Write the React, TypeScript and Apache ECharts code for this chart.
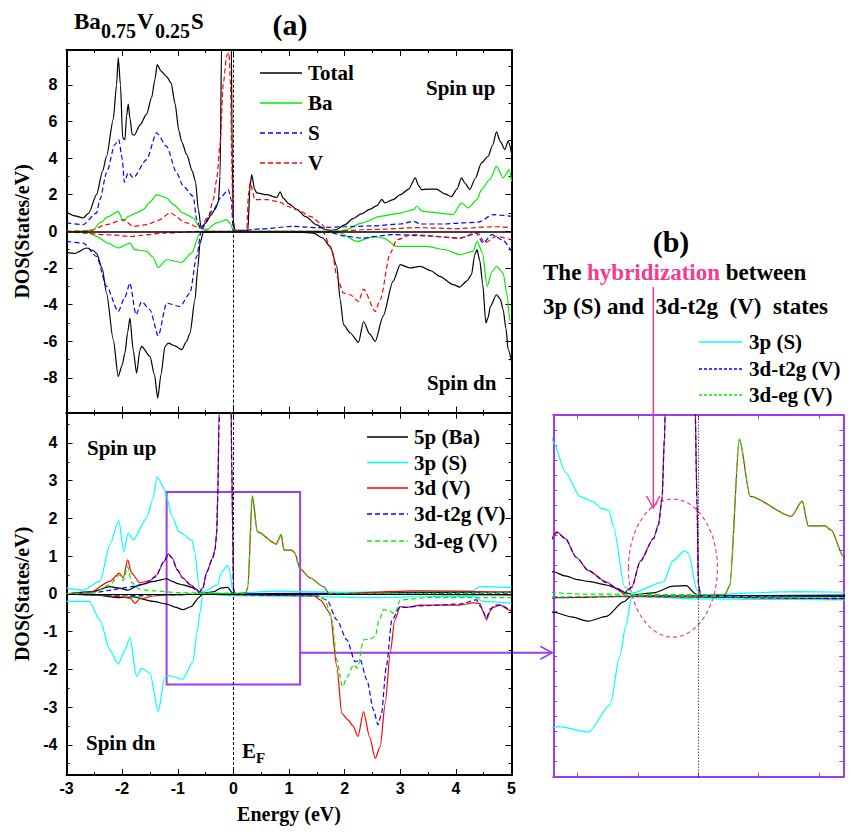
import React, { useEffect, useRef } from 'react';
import * as echarts from 'echarts';

type P = [number, number][];

// ---------- (a) upper panel: total & atomic DOS (spin up positive, spin down negative) ----------
const totalUp: P = [[-3,1.06],[-2.85,0.85],[-2.7,0.73],[-2.6,1.0],[-2.46,2.0],[-2.35,3.3],[-2.28,4.1],[-2.16,6.1],[-2.1,8.0],[-2.07,9.5],[-2.03,8.0],[-1.99,5.1],[-1.95,5.0],[-1.92,6.3],[-1.89,6.95],[-1.86,6.2],[-1.82,5.3],[-1.78,5.25],[-1.68,5.8],[-1.56,6.4],[-1.47,7.3],[-1.41,8.3],[-1.37,9.1],[-1.3,8.75],[-1.2,8.45],[-1.12,8.1],[-1.05,7.0],[-0.98,5.5],[-0.93,4.9],[-0.84,4.2],[-0.74,3.3],[-0.68,2.7],[-0.63,1.2],[-0.58,0.2],[-0.5,0.45],[-0.4,0.9],[-0.33,1.2],[-0.27,1.6],[-0.24,3.0],[-0.21,10.5],[-0.16,22],[-0.1,26],[-0.06,20],[-0.04,11],[-0.02,4],[0,0.5],[0.03,0.05],[0.26,0.05],[0.3,2.5],[0.33,3.1],[0.38,2.3],[0.42,2.1],[0.6,2.0],[0.78,1.85],[0.84,2.15],[0.9,1.8],[1.0,1.5],[1.14,1.2],[1.3,0.8],[1.5,0.35],[1.65,0.1],[1.75,0.05],[1.85,0.1],[2.0,0.35],[2.15,0.7],[2.3,0.95],[2.45,1.2],[2.58,1.4],[2.67,1.75],[2.72,1.55],[2.87,1.73],[3.0,2.0],[3.15,2.3],[3.27,2.92],[3.33,2.5],[3.38,2.28],[3.5,2.3],[3.65,2.3],[3.8,2.05],[3.92,1.9],[4.02,2.3],[4.1,2.92],[4.17,2.6],[4.25,2.28],[4.35,2.9],[4.46,3.74],[4.58,4.1],[4.66,4.7],[4.73,5.43],[4.8,4.9],[4.88,4.46],[4.94,4.92],[5,4.28]];
const totalDn: P = [[-3,-1.15],[-2.85,-1.2],[-2.64,-0.91],[-2.52,-1.05],[-2.46,-1.2],[-2.36,-2.0],[-2.28,-3.37],[-2.16,-5.9],[-2.07,-7.92],[-2.0,-7.3],[-1.95,-6.65],[-1.9,-5.5],[-1.86,-4.73],[-1.8,-6.5],[-1.74,-7.74],[-1.68,-6.5],[-1.65,-6.28],[-1.5,-6.83],[-1.42,-7.8],[-1.36,-9.1],[-1.3,-7.8],[-1.23,-6.28],[-1.17,-6.1],[-1.05,-6.25],[-0.93,-6.46],[-0.84,-6.0],[-0.78,-5.55],[-0.69,-3.73],[-0.64,-2.0],[-0.6,-0.64],[-0.54,-0.05],[-0.3,-0.03],[0,-0.02],[1.2,-0.05],[1.44,-0.1],[1.6,-0.35],[1.74,-0.82],[1.86,-1.91],[1.92,-3.73],[1.98,-5.1],[2.1,-5.55],[2.25,-6.06],[2.34,-4.92],[2.45,-5.6],[2.55,-6.01],[2.69,-4.64],[2.87,-2.73],[3.0,-1.82],[3.18,-2.0],[3.36,-1.91],[3.55,-2.15],[3.71,-2.46],[3.95,-2.91],[4.07,-3.04],[4.2,-2.7],[4.28,-2.37],[4.34,-1.27],[4.38,-1.0],[4.43,-1.6],[4.48,-2.82],[4.54,-5.01],[4.58,-4.7],[4.62,-4.1],[4.73,-3.46],[4.8,-3.7],[4.85,-4.28],[4.9,-5.3],[4.94,-6.46],[5,-7.1]];
const baUp: P = [[-3,0],[-2.7,0.02],[-2.52,0.09],[-2.4,0.46],[-2.25,0.8],[-2.07,1.09],[-1.98,0.55],[-1.89,0.82],[-1.75,1.0],[-1.62,1.19],[-1.5,1.6],[-1.38,2.0],[-1.2,1.83],[-1.08,1.46],[-0.9,1.0],[-0.72,0.73],[-0.6,0.18],[-0.48,0.09],[-0.3,0.46],[-0.12,0.64],[-0.05,0.4],[0,0],[1.9,0],[2.04,0.1],[2.3,0.45],[2.64,0.82],[3.0,1.0],[3.24,1.19],[3.3,1.37],[3.4,1.09],[3.7,1.0],[3.95,0.91],[4.1,1.55],[4.22,1.28],[4.38,1.73],[4.46,2.28],[4.61,2.83],[4.73,3.55],[4.85,2.92],[4.96,3.37],[5,2.73]];
const baDn: P = [[-3,0],[-2.64,-0.02],[-2.46,-0.27],[-2.25,-0.65],[-2.07,-0.91],[-1.86,-0.64],[-1.77,-1.0],[-1.56,-1.09],[-1.45,-1.4],[-1.35,-1.97],[-1.2,-1.55],[-0.93,-1.69],[-0.75,-1.18],[-0.6,-0.09],[-0.54,0],[1.68,0],[1.92,-0.09],[2.22,-0.55],[2.52,-0.27],[2.7,-0.37],[2.94,-0.82],[3.48,-0.82],[3.8,-1.0],[4.07,-1.27],[4.31,-1.09],[4.38,-0.55],[4.48,-1.18],[4.56,-3.0],[4.65,-2.2],[4.73,-1.91],[4.85,-2.28],[4.92,-3.5],[4.97,-4.83],[5,-4.92]];
const sUp: P = [[-3,0.46],[-2.7,0.37],[-2.46,1.0],[-2.4,1.73],[-2.28,3.19],[-2.13,4.74],[-2.06,5.01],[-2.0,4.0],[-1.96,2.68],[-1.89,3.21],[-1.8,2.92],[-1.56,3.92],[-1.38,5.38],[-1.2,4.64],[-1.02,3.19],[-0.9,2.46],[-0.72,1.91],[-0.66,0.64],[-0.58,0.1],[-0.36,1.19],[-0.21,1.91],[-0.09,2.28],[-0.04,1.73],[0,0],[0.48,0.13],[1.08,0.27],[1.5,0.2],[2.0,0.25],[2.5,0.3],[3.0,0.4],[3.24,0.55],[3.36,0.4],[3.8,0.4],[4.1,0.46],[4.4,0.5],[4.67,0.91],[5,0.82]];
const sDn: P = [[-3,-0.55],[-2.7,-0.64],[-2.46,-1.37],[-2.28,-3.0],[-2.07,-4.37],[-1.95,-3.6],[-1.86,-2.82],[-1.75,-4.55],[-1.65,-3.83],[-1.5,-4.28],[-1.35,-5.7],[-1.2,-3.92],[-0.96,-4.1],[-0.78,-3.37],[-0.66,-1.37],[-0.58,0],[0,-0.02],[1.7,-0.05],[2.04,-0.27],[2.3,-0.37],[2.87,-0.18],[3.5,-0.25],[4.07,-0.37],[4.36,-0.09],[4.49,-0.64],[4.65,-0.18],[4.85,-0.5],[5,-1.09]];
const vUp: P = [[-3,0],[-2.6,0.02],[-2.28,0.37],[-1.98,0.64],[-1.8,0.27],[-1.56,0.37],[-1.35,0.6],[-1.14,1.0],[-0.84,0.46],[-0.6,0.18],[-0.45,0.8],[-0.36,1.73],[-0.3,2.83],[-0.24,4.74],[-0.18,8.1],[-0.12,9.6],[-0.08,9.75],[-0.05,8.0],[-0.03,4.0],[-0.01,1.0],[0.02,0],[0.24,0],[0.27,2.0],[0.3,2.65],[0.39,1.73],[0.6,1.73],[0.84,1.6],[0.96,1.37],[1.14,1.19],[1.4,0.8],[1.56,0.46],[1.68,0.09],[1.75,0],[2.5,0.1],[3.3,0.2],[4.0,0.15],[4.7,0.25],[5,0.2]];
const vDn: P = [[-3,0],[-2.28,-0.18],[-1.86,-0.27],[-1.2,-0.09],[-0.6,0],[1.6,0],[1.77,-1.0],[1.86,-2.46],[1.98,-3.37],[2.1,-3.46],[2.25,-3.83],[2.34,-3.15],[2.55,-4.37],[2.64,-3.73],[2.82,-1.18],[2.94,-0.46],[3.2,-0.18],[4.07,-0.37],[4.4,-0.09],[4.52,-0.64],[4.72,-0.27],[5,-0.46]];

// ---------- (a) lower panel & (b): orbital-projected DOS ----------
const p5Up: P = [[-3,0],[-2.52,0.06],[-2.22,0.19],[-2.05,0.15],[-1.9,0.1],[-1.68,0.24],[-1.44,0.33],[-1.2,0.4],[-1.1,0.33],[-1.0,0.27],[-0.91,0.24],[-0.76,0.18],[-0.67,0.12],[-0.6,0.05],[-0.54,0.02],[-0.37,0.05],[-0.21,0.16],[-0.1,0.17],[-0.02,0.03],[0.02,0],[3.0,0.03],[5,0.05]];
const p5Dn: P = [[-3,0],[-2.5,-0.03],[-2.04,-0.1],[-1.8,-0.08],[-1.44,-0.2],[-1.2,-0.27],[-1.05,-0.35],[-0.91,-0.42],[-0.76,-0.34],[-0.62,-0.1],[-0.55,0],[5,-0.03]];
const s3pUp: P = [[-3,0.15],[-2.7,0.1],[-2.4,0.33],[-2.22,1.3],[-2.06,1.94],[-1.97,1.12],[-1.89,1.61],[-1.8,1.43],[-1.56,2.0],[-1.45,2.5],[-1.37,3.1],[-1.23,2.76],[-1.2,2.55],[-1.1,2.05],[-0.98,1.65],[-0.87,1.56],[-0.8,1.45],[-0.74,1.42],[-0.7,1.13],[-0.61,0.15],[-0.54,0.05],[-0.29,0.23],[-0.21,0.58],[-0.11,0.75],[-0.08,0.7],[-0.01,0.09],[0.02,0.02],[0.8,0.07],[1.2,0.06],[2.0,0.04],[3.0,0.06],[4.3,0.08],[4.43,0.19],[5,0.17]];
const s3pDn: P = [[-3,-0.2],[-2.59,-0.2],[-2.4,-0.69],[-2.22,-1.49],[-2.07,-1.86],[-1.95,-1.49],[-1.86,-1.16],[-1.74,-2.19],[-1.65,-1.97],[-1.5,-2.1],[-1.35,-3.12],[-1.23,-2.19],[-1.15,-2.17],[-0.91,-2.26],[-0.73,-1.81],[-0.65,-1.0],[-0.6,-0.5],[-0.55,0],[0,-0.05],[1.5,-0.07],[2.45,-0.1],[3.5,-0.07],[4.3,-0.06],[4.49,-0.2],[5,-0.25]];
const d3Up: P = [[-3,0],[-2.6,0.02],[-2.22,0.33],[-2.05,0.55],[-1.98,0.42],[-1.9,0.9],[-1.83,0.55],[-1.68,0.29],[-1.5,0.35],[-1.38,0.5],[-1.25,0.85],[-1.17,1.06],[-1.1,0.95],[-1.01,0.64],[-0.91,0.42],[-0.76,0.23],[-0.67,0.12],[-0.62,0.04],[-0.55,0.15],[-0.48,0.58],[-0.37,0.96],[-0.33,1.18],[-0.3,1.62],[-0.28,2.65],[-0.26,4.5],[-0.22,7.5],[-0.15,9.5],[-0.08,9.4],[-0.05,7.0],[-0.03,3.5],[-0.01,1.56],[0,0.2],[0.02,0],[0.22,0.02],[0.26,0.17],[0.34,2.6],[0.43,1.65],[0.77,1.32],[0.86,1.57],[0.91,1.16],[1.05,1.16],[1.1,1.09],[1.2,0.66],[1.38,0.42],[1.62,0.19],[1.73,0],[3.27,0.08],[5,0.04]];
const d3Dn: P = [[-3,0],[-2.5,-0.02],[-2.0,-0.08],[-1.85,-0.12],[-1.77,-0.25],[-1.68,-0.13],[-1.4,-0.05],[-1.2,-0.03],[-0.6,-0.01],[1.45,-0.05],[1.56,-0.16],[1.74,-0.51],[1.86,-1.93],[1.95,-3.17],[2.06,-3.34],[2.15,-3.5],[2.24,-3.78],[2.34,-3.12],[2.45,-3.8],[2.55,-4.36],[2.64,-4.05],[2.73,-2.9],[2.82,-1.57],[2.9,-0.7],[3.0,-0.34],[3.1,-0.36],[3.36,-0.3],[4.07,-0.3],[4.31,-0.24],[4.43,-0.25],[4.5,-0.5],[4.55,-0.69],[4.62,-0.45],[4.67,-0.36],[4.8,-0.3],[4.97,-0.44],[5,-0.42]];
const t2gUp: P = [[-3,0],[-2.5,0.03],[-2.2,0.1],[-2.0,0.15],[-1.8,0.2],[-1.6,0.25],[-1.4,0.45],[-1.25,0.85],[-1.17,1.05],[-1.1,0.95],[-1.01,0.64],[-0.91,0.42],[-0.76,0.22],[-0.67,0.11],[-0.62,0.03],[-0.55,0.14],[-0.48,0.57],[-0.37,0.95],[-0.33,1.17],[-0.3,1.6],[-0.28,2.6],[-0.26,4.45],[-0.22,7.4],[-0.15,9.3],[-0.08,9.2],[-0.05,6.9],[-0.03,3.45],[-0.01,1.5],[0,0.2],[0.02,0],[5,0.02]];
const t2gDn: P = [[-3,0],[-2.5,-0.03],[-2.0,-0.05],[-1.5,-0.04],[-0.6,-0.01],[1.5,-0.05],[1.68,-0.16],[1.86,-0.69],[2.04,-1.22],[2.19,-1.8],[2.28,-1.75],[2.4,-2.28],[2.52,-3.08],[2.6,-3.47],[2.66,-3.2],[2.75,-1.93],[2.85,-0.69],[3.0,-0.34],[3.1,-0.36],[3.36,-0.32],[4.07,-0.27],[4.37,-0.16],[4.45,-0.35],[4.55,-0.64],[4.62,-0.4],[4.7,-0.3],[4.8,-0.3],[5,-0.46]];
const egUp: P = [[-3,0],[-2.5,0.03],[-2.22,0.24],[-2.05,0.5],[-1.98,0.35],[-1.9,0.72],[-1.83,0.3],[-1.68,0.12],[-1.44,0.08],[-0.96,0.03],[0,0.02],[0.22,0.02],[0.26,0.17],[0.34,2.6],[0.43,1.65],[0.77,1.32],[0.86,1.57],[0.91,1.16],[1.05,1.16],[1.1,1.09],[1.2,0.66],[1.38,0.42],[1.62,0.19],[1.73,0],[5,0.03]];
const egDn: P = [[-3,0],[-2.0,-0.03],[-1.8,-0.1],[-1.5,-0.03],[-0.6,0],[1.5,-0.03],[1.65,-0.16],[1.77,-0.69],[1.86,-1.75],[1.96,-2.46],[2.05,-2.2],[2.16,-1.88],[2.23,-1.97],[2.34,-1.22],[2.45,-1.2],[2.55,-1.13],[2.62,-0.7],[2.7,-0.42],[2.8,-0.45],[2.9,-0.53],[3.0,-0.16],[3.5,-0.1],[4.5,-0.1],[5,-0.1]];

// ---------- axes / ticks / legends ----------
const energyRange = [-3, 5];
const topYRange = [-9.9, 9.9];
const botYRange = [-4.8, 4.8];
const topYTicks = [-8, -6, -4, -2, 0, 2, 4, 6, 8];
const topYMinor = [-9, -7, -5, -3, -1, 1, 3, 5, 7, 9];
const botYTicks = [-4, -3, -2, -1, 0, 1, 2, 3, 4];
const botYMinor = [-4.5, -3.5, -2.5, -1.5, -0.5, 0.5, 1.5, 2.5, 3.5, 4.5];
const zoomXRange = [-1.2, 1.2];
const zoomYRange = [-3, 3];
const zoomXTicks = [-1, -0.5, 0, 0.5, 1];
const zoomBox = { x0: -1.2, x1: 1.2, y0: -2.4, y1: 2.7 };
const arrowLevel = -1.56; // DOS level of the connecting arrow
const topLegend = ['Total', 'Ba', 'S', 'V'];
const botLegend = ['5p (Ba)', '3p (S)', '3d (V)', '3d-t2g (V)', '3d-eg (V)'];
const zoomLegend = ['3p (S)', '3d-t2g (V)', '3d-eg (V)'];

const SERIF = 'Liberation Serif';
const SANS = 'Liberation Sans';
const PURPLE = '#9b3cf0';
const PINK = '#f23c8f';
const C = { black: '#000000', green: '#00ee00', blue: '#0000ff', red: '#ff0000', cyan: '#00ffff' };

const G1 = { left: 66.5, top: 50, width: 445, height: 362.7 };
const G2 = { left: 66.5, top: 412.7, width: 445, height: 362.3 };
const G3 = { left: 553.3, top: 415, width: 290, height: 361.7 };

export default function App() {
  const ref = useRef<HTMLDivElement>(null);
  useEffect(() => {
    if (!ref.current) return;
    const chart = echarts.init(ref.current, undefined, { renderer: 'svg' });
    const bold = { fontFamily: SERIF, fontWeight: 'bold' as const, color: '#000' };
    const dash = [5, 3];

    const ln = (name: string, data: P, color: string, dashed: boolean, xi: number, yi: number, extra: any = {}) => ({
      type: 'line', name, data, xAxisIndex: xi, yAxisIndex: yi, symbol: 'none', silent: true,
      smooth: 0.25, smoothMonotone: 'x',
      lineStyle: { color, width: 1.2, type: dashed ? dash : 'solid' }, itemStyle: { color }, ...extra,
    });

    const xAx = (grid: number, pos: string, range: number[], opts: any = {}) => ({
      type: 'value', gridIndex: grid, position: pos, min: range[0], max: range[1],
      axisLine: { show: true, onZero: false, lineStyle: { color: opts.color || '#000', width: 2 } },
      axisTick: { show: true, inside: true, length: 6, lineStyle: { color: opts.color || '#000', width: 1 }, ...(opts.tick || {}) },
      minorTick: opts.minor ? { show: true, splitNumber: 2, length: 3, lineStyle: { color: '#000' } } : { show: false },
      axisLabel: opts.labels ? { show: true, fontFamily: SANS, fontWeight: 'bold', fontSize: 16, color: '#000', margin: 5 } : { show: false },
      splitLine: { show: false },
      interval: opts.interval,
      name: opts.name, nameLocation: 'middle', nameGap: 29,
      nameTextStyle: { ...bold, fontSize: 20 },
    });
    const yAx = (grid: number, pos: string, range: number[], ticks: number[] | null, len: number, opts: any = {}) => ({
      type: 'value', gridIndex: grid, position: pos, min: range[0], max: range[1],
      axisLine: { show: !!opts.line, onZero: false, lineStyle: { color: opts.color || '#000', width: 2 } },
      axisTick: { show: true, inside: true, length: len, lineStyle: { color: opts.color || '#000', width: 1 }, ...(ticks ? { customValues: ticks } : {}) },
      axisLabel: opts.labels ? { show: true, fontFamily: SANS, fontWeight: 'bold', fontSize: 16, color: '#000', margin: 9, customValues: ticks } : { show: false },
      splitLine: { show: false },
      interval: opts.interval,
      name: opts.name, nameLocation: 'middle', nameGap: 30,
      nameTextStyle: { ...bold, fontSize: 20 },
    });

    const xAxis = [
      xAx(0, 'bottom', energyRange, { interval: 1, minor: true }),
      xAx(0, 'top', energyRange, { interval: 1, minor: true }),
      xAx(1, 'bottom', energyRange, { interval: 1, minor: true, labels: true, name: 'Energy (eV)' }),
      xAx(1, 'top', energyRange, { interval: 1, minor: true }),
      xAx(2, 'bottom', zoomXRange, { color: PURPLE, tick: { customValues: zoomXTicks, length: 4 } }),
      xAx(2, 'top', zoomXRange, { color: PURPLE, tick: { customValues: zoomXTicks, length: 4 } }),
    ];
    const yAxis = [
      yAx(0, 'left', topYRange, topYTicks, 6, { line: true, labels: true, name: 'DOS(States/eV)' }),
      yAx(0, 'left', topYRange, topYMinor, 3),
      yAx(0, 'right', topYRange, topYTicks, 6, { line: true }),
      yAx(0, 'right', topYRange, topYMinor, 3),
      yAx(1, 'left', botYRange, botYTicks, 6, { line: true, labels: true, name: 'DOS(States/eV)' }),
      yAx(1, 'left', botYRange, botYMinor, 3),
      yAx(1, 'right', botYRange, botYTicks, 6, { line: true }),
      yAx(1, 'right', botYRange, botYMinor, 3),
      yAx(2, 'left', zoomYRange, null, 4, { line: true, color: PURPLE, interval: 0.25 }),
      yAx(2, 'right', zoomYRange, null, 4, { line: true, color: PURPLE, interval: 0.25 }),
    ];

    const refLines = (zeroW: number, efType: any) => ({
      symbol: 'none', silent: true, label: { show: false },
      data: [
        ...(zeroW > 0 ? [{ yAxis: 0, lineStyle: { color: '#000', width: zeroW, type: 'solid' } }] : []),
        { xAxis: 0, lineStyle: { color: '#000', width: 1, type: efType } },
      ],
    });

    const orbital = (xi: number, yi: number, first: any) => [
      ln(botLegend[0], p5Up, C.black, false, xi, yi, first),
      ln(botLegend[0], p5Dn, C.black, false, xi, yi),
      ln(botLegend[1], s3pUp, C.cyan, false, xi, yi),
      ln(botLegend[1], s3pDn, C.cyan, false, xi, yi),
      ln(botLegend[2], d3Up, C.red, false, xi, yi),
      ln(botLegend[2], d3Dn, C.red, false, xi, yi),
      ln(botLegend[3], t2gUp, C.blue, true, xi, yi),
      ln(botLegend[3], t2gDn, C.blue, true, xi, yi),
      ln(botLegend[4], egUp, C.green, true, xi, yi),
      ln(botLegend[4], egDn, C.green, true, xi, yi),
    ];

    const series: any[] = [
      ln(topLegend[0], totalUp, C.black, false, 0, 0, { markLine: refLines(1.6, [3, 2]) }),
      ln(topLegend[0], totalDn, C.black, false, 0, 0),
      ln(topLegend[1], baUp, C.green, false, 0, 0),
      ln(topLegend[1], baDn, C.green, false, 0, 0),
      ln(topLegend[2], sUp, C.blue, true, 0, 0),
      ln(topLegend[2], sDn, C.blue, true, 0, 0),
      ln(topLegend[3], vUp, C.red, true, 0, 0),
      ln(topLegend[3], vDn, C.red, true, 0, 0),
      ...orbital(2, 4, {
        markLine: refLines(1, [3, 2]),
        markArea: {
          silent: true,
          itemStyle: { color: 'rgba(0,0,0,0)', borderColor: PURPLE, borderWidth: 2 },
          data: [[{ xAxis: zoomBox.x0, yAxis: zoomBox.y1 }, { xAxis: zoomBox.x1, yAxis: zoomBox.y0 }]],
        },
      }),
      ...orbital(4, 8, { markLine: refLines(0, [1, 2]) }),
    ];

    // pixel helpers for annotations
    const px2 = (x: number) => G2.left + ((x - energyRange[0]) / (energyRange[1] - energyRange[0])) * G2.width;
    const py2 = (y: number) => G2.top + ((botYRange[1] - y) / (botYRange[1] - botYRange[0])) * G2.height;
    const px3 = (x: number) => G3.left + ((x - zoomXRange[0]) / (zoomXRange[1] - zoomXRange[0])) * G3.width;
    const py3 = (y: number) => G3.top + ((zoomYRange[1] - y) / (zoomYRange[1] - zoomYRange[0])) * G3.height;

    const ay = py2(arrowLevel);
    const ax0 = px2(zoomBox.x1);
    const ax1 = G3.left - 1;
    const ecx = px3(-0.21), ecy = py3(0.46);

    const txt = (text: string, x: number, y: number, size: number, extra: any = {}) => ({
      type: 'text', x, y, silent: true,
      style: { text, fontFamily: SERIF, fontWeight: 'bold', fontSize: size, fill: '#000', align: 'left', verticalAlign: 'middle', ...extra },
    });
    const legendItems = (names: string[], colors: string[], dashes: any[], x0: number, x1: number, ys: number[], tx: number, w: number) =>
      names.flatMap((n, i) => [
        { type: 'line', silent: true, shape: { x1: x0, y1: ys[i], x2: x1, y2: ys[i] }, style: { stroke: colors[i], lineWidth: w, lineDash: dashes[i] } },
        txt(n, tx, ys[i], 21),
      ]);

    const graphic = [
      txt('Ba', 74, 21, 23),
      txt('0.75', 101, 31, 20),
      txt('V', 137, 21, 23),
      txt('0.25', 155, 31, 20),
      txt('S', 191, 21, 23),
      txt('(a)', 290, 24, 30, { align: 'center' }),
      txt('Spin up', 426, 88, 21),
      txt('Spin dn', 427, 383, 21),
      txt('Spin up', 87, 448, 21),
      txt('Spin dn', 86, 743, 21),
      txt('E', 242, 751, 21),
      txt('F', 256, 758, 15),
      txt('(b)', 671, 241, 30, { align: 'center' }),
      {
        type: 'text', x: 543, y: 272, silent: true,
        style: {
          text: '{k|The }{p|hybridization}{k| between}', align: 'left', verticalAlign: 'middle',
          rich: {
            k: { fontFamily: SERIF, fontWeight: 'bold', fontSize: 23, fill: '#000' },
            p: { fontFamily: SERIF, fontWeight: 'bold', fontSize: 23, fill: PINK },
          },
        },
      },
      txt('3p (S) and  3d-t2g  (V)  states', 543, 306, 23),
      ...legendItems(topLegend, [C.black, C.green, C.blue, C.red], [null, null, dash, dash], 260, 302, [73, 103, 133, 163], 308, 1.3),
      ...legendItems(botLegend, [C.black, C.cyan, C.red, C.blue, C.green], [null, null, null, dash, dash], 367, 408, [437, 462.5, 488, 514, 541], 414, 1.3),
      ...legendItems(zoomLegend, [C.cyan, C.blue, C.green], [null, [3, 2], [3, 2]], 699, 742, [342, 369, 395], 749, 1.3),
      // pink arrow
      { type: 'line', silent: true, shape: { x1: 653.3, y1: 287, x2: 653.3, y2: 508 }, style: { stroke: PINK, lineWidth: 1.5 } },
      { type: 'polyline', silent: true, shape: { points: [[646.5, 496], [653.3, 508], [660, 496]] }, style: { stroke: PINK, lineWidth: 1.5, fill: 'none' } },
      // dashed ellipse
      { type: 'ellipse', silent: true, shape: { cx: ecx, cy: ecy, rx: 44.5, ry: 69 }, style: { fill: 'none', stroke: PINK, lineWidth: 1.2, lineDash: [4, 3] } },
      // purple connector arrow
      { type: 'line', silent: true, shape: { x1: ax0, y1: ay, x2: ax1, y2: ay }, style: { stroke: PURPLE, lineWidth: 2 } },
      { type: 'polyline', silent: true, shape: { points: [[ax1 - 12, ay - 6.5], [ax1, ay], [ax1 - 12, ay + 6.5]] }, style: { stroke: PURPLE, lineWidth: 1.5, fill: 'none' } },
    ];

    chart.setOption({
      animation: false,
      backgroundColor: '#ffffff',
      grid: [
        { ...G1, containLabel: false },
        { ...G2, containLabel: false },
        { ...G3, containLabel: false },
      ],
      xAxis, yAxis, series, graphic,
    });
    return () => chart.dispose();
  }, []);
  return <div ref={ref} style={{ position: 'absolute', left: 0, top: 0, width: 853, height: 832, background: '#fff' }} />;
}
